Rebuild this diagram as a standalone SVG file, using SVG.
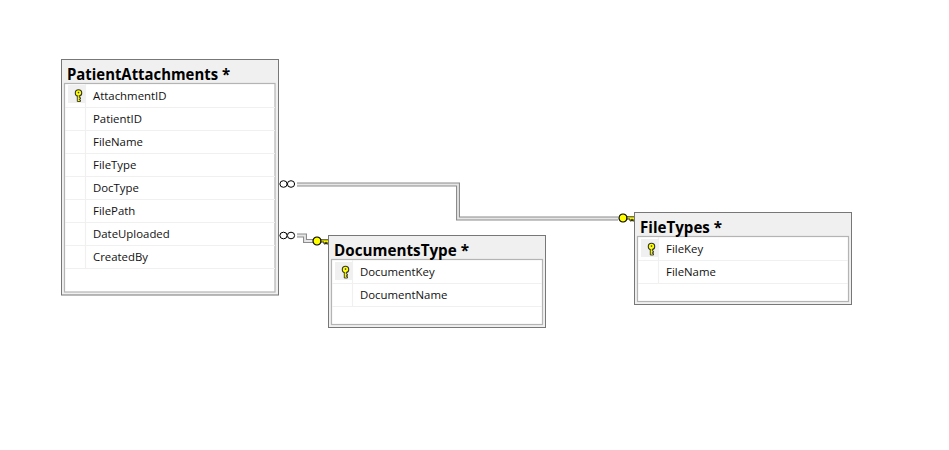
<svg xmlns="http://www.w3.org/2000/svg" width="949" height="450" viewBox="0 0 949 450">
<style>
text{font-family:"Open Sans","Noto Sans","Liberation Sans",sans-serif;fill:#111}
.title{font-size:15.200px;font-weight:700;fill:#000}
.row{font-size:11.400px}
.outer{fill:#f0f0f0;stroke:#777;stroke-width:1}
.inner{fill:#fff;stroke:#b4b4b4;stroke-width:1.2}
.sep{stroke:#f0f0f0;stroke-width:1.2;fill:none}
.keycell{fill:#f0f0f0}
.wire-o{fill:none;stroke:#8c8c8c;stroke-width:4}
.wire-i{fill:none;stroke:#e6e6e6;stroke-width:1.800}
.inf{fill:#fff;stroke:#000;stroke-width:1}
.rkey{fill:#ffff00;stroke:#000;stroke-width:1.200}
</style>
<defs>
<g id="pk">
<circle cx="0" cy="-3" r="3.200" fill="#ffff00" stroke="#333" stroke-width="1.100"/>
<circle cx="0" cy="-3.400" r=".8" fill="#333"/>
<path d="M-1.200-.5V5.500H2V4H.8V3H2V1.600H.8V-.5" fill="#ffff00" stroke="#333" stroke-width=".9"/>
</g>
<g id="fk">
<circle cx="0" cy="0" r="4" class="rkey"/>
<path d="M4 -1.200H12V1H11V3H9.500V1.300H8.500V3H7V1H4Z" fill="#ffff00" stroke="#000" stroke-width=".8"/>
</g>
</defs>
<g id="connectors">
<polyline class="wire-o" points="297,184.500 458,184.500 458,218.500 618,218.500"/>
<polyline class="wire-i" points="297,184.500 458,184.500 458,218.500 618,218.500"/>
<polyline class="wire-o" points="297,235.500 305,235.500 305,241 313,241"/>
<polyline class="wire-i" points="297,235.500 305,235.500 305,241 313,241"/>
<ellipse class="inf" cx="283.500" cy="184" rx="3.600" ry="3.300"/><ellipse class="inf" cx="291" cy="184" rx="3.600" ry="3.300"/>
<ellipse class="inf" cx="283.500" cy="235.500" rx="3.600" ry="3.300"/><ellipse class="inf" cx="291" cy="235.500" rx="3.600" ry="3.300"/>
<use href="#fk" x="317" y="241"/>
<use href="#fk" x="623" y="218"/>
</g>
<g id="PatientAttachments">
<rect class="outer" x="61.500" y="59.500" width="217" height="235.500"/>
<rect class="inner" x="64.500" y="83.500" width="210.500" height="208.500"/>
<rect class="keycell" x="68" y="85" width="17" height="18"/>
<path class="sep" d="M65 107.500H275M65 130.500H275M65 153.500H275M65 176.500H275M65 199.500H275M65 222.500H275M65 245.500H275M65 268.500H275M85.500 84V268"/>
<use href="#pk" x="78.500" y="96"/>
<text class="title" x="67" y="80" textLength="163" lengthAdjust="spacingAndGlyphs">PatientAttachments *</text>
<text class="row" x="93" y="100">AttachmentID</text>
<text class="row" x="93" y="123">PatientID</text>
<text class="row" x="93" y="146">FileName</text>
<text class="row" x="93" y="169">FileType</text>
<text class="row" x="93" y="192">DocType</text>
<text class="row" x="93" y="215">FilePath</text>
<text class="row" x="93" y="238">DateUploaded</text>
<text class="row" x="93" y="261">CreatedBy</text>
</g>
<g id="DocumentsType">
<rect class="outer" x="328.500" y="235.500" width="217" height="92"/>
<rect class="inner" x="331.500" y="259.500" width="211" height="65"/>
<rect class="keycell" x="335" y="262" width="17" height="18"/>
<path class="sep" d="M332 283.500H542M332 306.500H542M352.500 260V306"/>
<use href="#pk" x="345.500" y="272.500"/>
<text class="title" x="334" y="256" textLength="135" lengthAdjust="spacingAndGlyphs">DocumentsType *</text>
<text class="row" x="360" y="276">DocumentKey</text>
<text class="row" x="360" y="299">DocumentName</text>
</g>
<g id="FileTypes">
<rect class="outer" x="634.500" y="212.500" width="217" height="92"/>
<rect class="inner" x="637.500" y="236.500" width="211" height="65"/>
<rect class="keycell" x="641" y="239" width="17" height="18"/>
<path class="sep" d="M638 260.500H848M638 283.500H848M658.500 237V283"/>
<use href="#pk" x="651.500" y="249.500"/>
<text class="title" x="640" y="233" textLength="82" lengthAdjust="spacingAndGlyphs">FileTypes *</text>
<text class="row" x="666" y="253">FileKey</text>
<text class="row" x="666" y="276">FileName</text>
</g>
</svg>
